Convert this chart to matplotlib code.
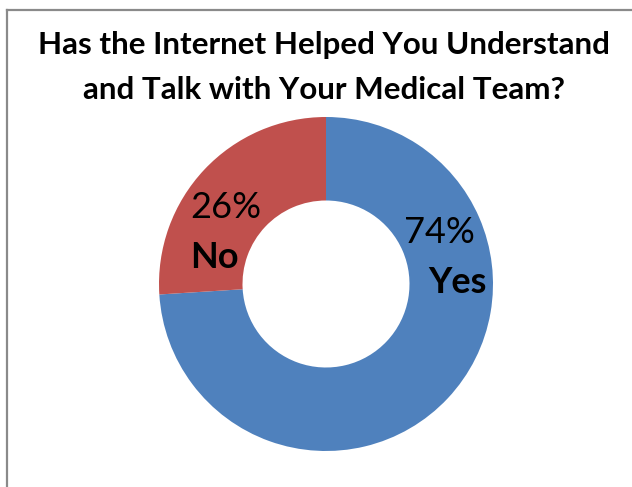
import matplotlib.pyplot as plt
from matplotlib.lines import Line2D

# survey answers
answers = ['Yes', 'No']
shares = [74, 26]
colors = ['#4F81BD', '#C0504D']
# where each answer's label sits inside the ring (data coords)
label_pos = {'Yes': (0.68, 0.31), 'No': (-0.60, 0.46)}

plt.rcParams['font.family'] = ['Lato', 'DejaVu Sans']

fig = plt.figure(figsize=(6.32, 4.87), dpi=100)
fig.patch.set_facecolor('white')

# chart frame (only top and left edges fall inside the image)
W, H = 632.0, 487.0
fig.add_artist(Line2D([6.5 / W, 6.5 / W], [0, 1 - 10 / H], transform=fig.transFigure,
                      color='#8a8a8a', lw=1.6))
fig.add_artist(Line2D([6.5 / W, 1], [1 - 10 / H, 1 - 10 / H], transform=fig.transFigure,
                      color='#8a8a8a', lw=1.6))

fig.text(324 / W, 1 - 45 / H, 'Has the Internet Helped You Understand',
         ha='center', va='center', fontsize=22.6, fontweight='bold')
fig.text(324 / W, 1 - 90 / H, 'and Talk with Your Medical Team?',
         ha='center', va='center', fontsize=22.6, fontweight='bold')

ax = fig.add_axes([159 / W, 36 / H, 334 / W, 334 / H])
ax.pie(shares, colors=colors, startangle=90, counterclock=False,
       wedgeprops=dict(width=0.5, edgecolor='none'))
ax.set_xlim(-1, 1)
ax.set_ylim(-1, 1)
ax.set_aspect('equal')
ax.axis('off')

for name, val in zip(answers, shares):
    x, y = label_pos[name]
    ax.text(x, y, f'{val}%', ha='center', va='center', fontsize=26)
    dx = 0.11 if name == 'Yes' else -0.07
    ax.text(x + dx, y - 0.30, name, ha='center', va='center', fontsize=26,
            fontweight='bold')

fig.savefig('out.png', dpi=100)
